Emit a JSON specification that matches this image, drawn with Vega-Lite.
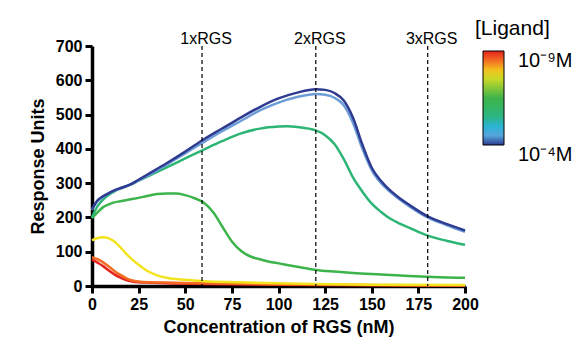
{
  "$schema": "https://vega.github.io/schema/vega-lite/v6.json",
  "autosize": {"type": "none"},
  "width": 373,
  "height": 240,
  "padding": {"left": 92, "top": 46, "right": 114, "bottom": 57},
  "background": "white",
  "config": {
    "view": {"stroke": null},
    "font": "Liberation Sans",
    "axis": {
      "grid": false,
      "domainColor": "black",
      "domainWidth": 3.5,
      "tickColor": "black",
      "tickWidth": 3,
      "tickSize": 7,
      "labelFont": "Liberation Sans",
      "labelFontWeight": "bold",
      "labelFontSize": 16,
      "labelColor": "black",
      "labelPadding": 3,
      "labelFlush": false,
      "labelOverlap": false,
      "titleFont": "Liberation Sans",
      "titleFontWeight": "bold",
      "titleFontSize": 18,
      "titleColor": "black"
    }
  },
  "datasets": {
    "curves": [
      {"s":"RD","c":9,"x":0,"y":77},{"s":"RD","c":9,"x":3,"y":68},{"s":"RD","c":9,"x":6,"y":58},{"s":"RD","c":9,"x":9,"y":45},{"s":"RD","c":9,"x":12,"y":34},{"s":"RD","c":9,"x":15,"y":25},{"s":"RD","c":9,"x":18,"y":18},{"s":"RD","c":9,"x":21,"y":14},{"s":"RD","c":9,"x":25,"y":11},{"s":"RD","c":9,"x":30,"y":10},{"s":"RD","c":9,"x":40,"y":8},{"s":"RD","c":9,"x":60,"y":6},{"s":"RD","c":9,"x":100,"y":4},{"s":"RD","c":9,"x":150,"y":2},{"s":"RD","c":9,"x":200,"y":1},
      {"s":"OR","c":8.5,"x":0,"y":84},{"s":"OR","c":8.5,"x":3,"y":78},{"s":"OR","c":8.5,"x":6,"y":69},{"s":"OR","c":8.5,"x":9,"y":57},{"s":"OR","c":8.5,"x":12,"y":44},{"s":"OR","c":8.5,"x":15,"y":33},{"s":"OR","c":8.5,"x":18,"y":24},{"s":"OR","c":8.5,"x":21,"y":17},{"s":"OR","c":8.5,"x":25,"y":13},{"s":"OR","c":8.5,"x":30,"y":11},{"s":"OR","c":8.5,"x":40,"y":10},{"s":"OR","c":8.5,"x":60,"y":8},{"s":"OR","c":8.5,"x":100,"y":5},{"s":"OR","c":8.5,"x":150,"y":3},{"s":"OR","c":8.5,"x":200,"y":2},
      {"s":"YE","c":7.8,"x":0,"y":133},{"s":"YE","c":7.8,"x":3,"y":140},{"s":"YE","c":7.8,"x":6,"y":142},{"s":"YE","c":7.8,"x":9,"y":139},{"s":"YE","c":7.8,"x":12,"y":130},{"s":"YE","c":7.8,"x":15,"y":114},{"s":"YE","c":7.8,"x":18,"y":96},{"s":"YE","c":7.8,"x":21,"y":80},{"s":"YE","c":7.8,"x":25,"y":62},{"s":"YE","c":7.8,"x":30,"y":43},{"s":"YE","c":7.8,"x":35,"y":31},{"s":"YE","c":7.8,"x":40,"y":24},{"s":"YE","c":7.8,"x":50,"y":18},{"s":"YE","c":7.8,"x":60,"y":14},{"s":"YE","c":7.8,"x":80,"y":11},{"s":"YE","c":7.8,"x":100,"y":8},{"s":"YE","c":7.8,"x":120,"y":6},{"s":"YE","c":7.8,"x":150,"y":4},{"s":"YE","c":7.8,"x":200,"y":3},
      {"s":"GR","c":6.5,"x":0,"y":198},{"s":"GR","c":6.5,"x":3,"y":215},{"s":"GR","c":6.5,"x":6,"y":230},{"s":"GR","c":6.5,"x":9,"y":238},{"s":"GR","c":6.5,"x":12,"y":244},{"s":"GR","c":6.5,"x":15,"y":247},{"s":"GR","c":6.5,"x":20,"y":252},{"s":"GR","c":6.5,"x":25,"y":257},{"s":"GR","c":6.5,"x":30,"y":263},{"s":"GR","c":6.5,"x":35,"y":268},{"s":"GR","c":6.5,"x":40,"y":270},{"s":"GR","c":6.5,"x":45,"y":270},{"s":"GR","c":6.5,"x":50,"y":265},{"s":"GR","c":6.5,"x":55,"y":256},{"s":"GR","c":6.5,"x":60,"y":243},{"s":"GR","c":6.5,"x":65,"y":215},{"s":"GR","c":6.5,"x":70,"y":172},{"s":"GR","c":6.5,"x":75,"y":130},{"s":"GR","c":6.5,"x":80,"y":102},{"s":"GR","c":6.5,"x":85,"y":86},{"s":"GR","c":6.5,"x":90,"y":78},{"s":"GR","c":6.5,"x":95,"y":71},{"s":"GR","c":6.5,"x":100,"y":66},{"s":"GR","c":6.5,"x":110,"y":56},{"s":"GR","c":6.5,"x":120,"y":47},{"s":"GR","c":6.5,"x":130,"y":42},{"s":"GR","c":6.5,"x":140,"y":38},{"s":"GR","c":6.5,"x":150,"y":35},{"s":"GR","c":6.5,"x":160,"y":32},{"s":"GR","c":6.5,"x":170,"y":29},{"s":"GR","c":6.5,"x":180,"y":27},{"s":"GR","c":6.5,"x":190,"y":25},{"s":"GR","c":6.5,"x":200,"y":24},
      {"s":"TE","c":5.6,"x":0,"y":200},{"s":"TE","c":5.6,"x":3,"y":233},{"s":"TE","c":5.6,"x":6,"y":253},{"s":"TE","c":5.6,"x":9,"y":266},{"s":"TE","c":5.6,"x":12,"y":276},{"s":"TE","c":5.6,"x":15,"y":284},{"s":"TE","c":5.6,"x":20,"y":294},{"s":"TE","c":5.6,"x":25,"y":307},{"s":"TE","c":5.6,"x":30,"y":320},{"s":"TE","c":5.6,"x":40,"y":346},{"s":"TE","c":5.6,"x":50,"y":372},{"s":"TE","c":5.6,"x":60,"y":398},{"s":"TE","c":5.6,"x":70,"y":423},{"s":"TE","c":5.6,"x":80,"y":445},{"s":"TE","c":5.6,"x":90,"y":459},{"s":"TE","c":5.6,"x":100,"y":465},{"s":"TE","c":5.6,"x":105,"y":466},{"s":"TE","c":5.6,"x":110,"y":464},{"s":"TE","c":5.6,"x":120,"y":454},{"s":"TE","c":5.6,"x":125,"y":440},{"s":"TE","c":5.6,"x":130,"y":414},{"s":"TE","c":5.6,"x":135,"y":370},{"s":"TE","c":5.6,"x":140,"y":316},{"s":"TE","c":5.6,"x":145,"y":275},{"s":"TE","c":5.6,"x":150,"y":240},{"s":"TE","c":5.6,"x":155,"y":216},{"s":"TE","c":5.6,"x":160,"y":196},{"s":"TE","c":5.6,"x":165,"y":182},{"s":"TE","c":5.6,"x":170,"y":170},{"s":"TE","c":5.6,"x":180,"y":147},{"s":"TE","c":5.6,"x":190,"y":132},{"s":"TE","c":5.6,"x":200,"y":120},
      {"s":"LB","c":4.3,"x":0,"y":222},{"s":"LB","c":4.3,"x":3,"y":248},{"s":"LB","c":4.3,"x":6,"y":260},{"s":"LB","c":4.3,"x":9,"y":270},{"s":"LB","c":4.3,"x":12,"y":278},{"s":"LB","c":4.3,"x":15,"y":284},{"s":"LB","c":4.3,"x":20,"y":294},{"s":"LB","c":4.3,"x":25,"y":308},{"s":"LB","c":4.3,"x":30,"y":322},{"s":"LB","c":4.3,"x":40,"y":354},{"s":"LB","c":4.3,"x":50,"y":387},{"s":"LB","c":4.3,"x":60,"y":420},{"s":"LB","c":4.3,"x":70,"y":452},{"s":"LB","c":4.3,"x":80,"y":482},{"s":"LB","c":4.3,"x":90,"y":512},{"s":"LB","c":4.3,"x":100,"y":535},{"s":"LB","c":4.3,"x":110,"y":551},{"s":"LB","c":4.3,"x":120,"y":560},{"s":"LB","c":4.3,"x":125,"y":558},{"s":"LB","c":4.3,"x":130,"y":549},{"s":"LB","c":4.3,"x":135,"y":527},{"s":"LB","c":4.3,"x":140,"y":475},{"s":"LB","c":4.3,"x":145,"y":400},{"s":"LB","c":4.3,"x":150,"y":338},{"s":"LB","c":4.3,"x":155,"y":300},{"s":"LB","c":4.3,"x":160,"y":274},{"s":"LB","c":4.3,"x":165,"y":252},{"s":"LB","c":4.3,"x":170,"y":233},{"s":"LB","c":4.3,"x":180,"y":200},{"s":"LB","c":4.3,"x":190,"y":178},{"s":"LB","c":4.3,"x":200,"y":158},
      {"s":"DB","c":4,"x":0,"y":224},{"s":"DB","c":4,"x":3,"y":250},{"s":"DB","c":4,"x":6,"y":262},{"s":"DB","c":4,"x":9,"y":271},{"s":"DB","c":4,"x":12,"y":279},{"s":"DB","c":4,"x":15,"y":285},{"s":"DB","c":4,"x":20,"y":295},{"s":"DB","c":4,"x":25,"y":310},{"s":"DB","c":4,"x":30,"y":326},{"s":"DB","c":4,"x":40,"y":358},{"s":"DB","c":4,"x":50,"y":392},{"s":"DB","c":4,"x":60,"y":428},{"s":"DB","c":4,"x":70,"y":460},{"s":"DB","c":4,"x":80,"y":492},{"s":"DB","c":4,"x":90,"y":522},{"s":"DB","c":4,"x":100,"y":547},{"s":"DB","c":4,"x":110,"y":564},{"s":"DB","c":4,"x":120,"y":574},{"s":"DB","c":4,"x":125,"y":572},{"s":"DB","c":4,"x":130,"y":563},{"s":"DB","c":4,"x":135,"y":541},{"s":"DB","c":4,"x":140,"y":490},{"s":"DB","c":4,"x":145,"y":412},{"s":"DB","c":4,"x":150,"y":345},{"s":"DB","c":4,"x":155,"y":306},{"s":"DB","c":4,"x":160,"y":278},{"s":"DB","c":4,"x":165,"y":256},{"s":"DB","c":4,"x":170,"y":237},{"s":"DB","c":4,"x":180,"y":203},{"s":"DB","c":4,"x":190,"y":181},{"s":"DB","c":4,"x":200,"y":162}
    ],
    "marks": [
      {"x": 59, "label": "1xRGS"},
      {"x": 120, "label": "2xRGS"},
      {"x": 180, "label": "3xRGS"}
    ]
  },
  "layer": [
    {
      "data": {"name": "curves"},
      "mark": {"type": "line", "interpolate": "monotone", "strokeWidth": 2.5},
      "encoding": {
        "x": {"field": "x", "type": "quantitative", "scale": {"domain": [0, 200], "nice": false},
              "axis": {"values": [0, 25, 50, 75, 100, 125, 150, 175, 200], "title": "Concentration of RGS (nM)", "titlePadding": 6, "labelOverlap": false}},
        "y": {"field": "y", "type": "quantitative", "scale": {"domain": [0, 700], "nice": false},
              "axis": {"values": [0, 100, 200, 300, 400, 500, 600, 700], "title": "Response Units", "titlePadding": 8, "labelOverlap": false}},
        "detail": {"field": "s", "type": "nominal"},
        "color": {
          "field": "c", "type": "quantitative",
          "scale": {
            "domain": [4, 4.3, 4.9, 5.6, 6.5, 7.8, 8.5, 9],
            "range": ["#2e3b91", "#6c9dd7", "#2ab4e4", "#2cb574", "#3db44b", "#f2e41c", "#f26b22", "#e4231f"],
            "interpolate": "rgb"
          },
          "legend": {
            "type": "gradient",
            "orient": "none",
            "direction": "vertical",
            "legendX": 383,
            "legendY": -28,
            "title": "[Ligand]",
            "titleFont": "Liberation Sans",
            "titleFontSize": 21,
            "titleFontWeight": "normal",
            "titleColor": "black",
            "titlePadding": 12,
            "gradientLength": 94,
            "gradientThickness": 21,
            "gradientStrokeColor": "black",
            "gradientStrokeWidth": 1,
            "values": [4, 9],
            "labelExpr": "datum.value == 9 ? '10⁻⁹M' : '10⁻⁴M'",
            "labelFont": "Liberation Sans",
            "labelFontSize": 20,
            "labelColor": "black",
            "labelOffset": 14,
            "labelOverlap": false,
            "encoding": {
              "labels": {"baseline": {"value": "top"}},
              "title": {"dx": {"value": -8}}
            }
          }
        }
      }
    },
    {
      "data": {"name": "marks"},
      "mark": {"type": "rule", "color": "black", "strokeWidth": 1.2, "strokeDash": [4, 3]},
      "encoding": {
        "x": {"field": "x", "type": "quantitative"}
      }
    },
    {
      "data": {"name": "marks"},
      "mark": {"type": "text", "fontSize": 16, "font": "Liberation Sans", "color": "black", "baseline": "alphabetic", "align": "center", "dy": -2, "dx": 4, "clip": false},
      "encoding": {
        "x": {"field": "x", "type": "quantitative"},
        "y": {"datum": 700, "type": "quantitative",
              "axis": {"values": [0, 100, 200, 300, 400, 500, 600, 700], "title": "Response Units", "titlePadding": 8, "labelOverlap": false}},
        "text": {"field": "label"}
      }
    }
  ]
}
